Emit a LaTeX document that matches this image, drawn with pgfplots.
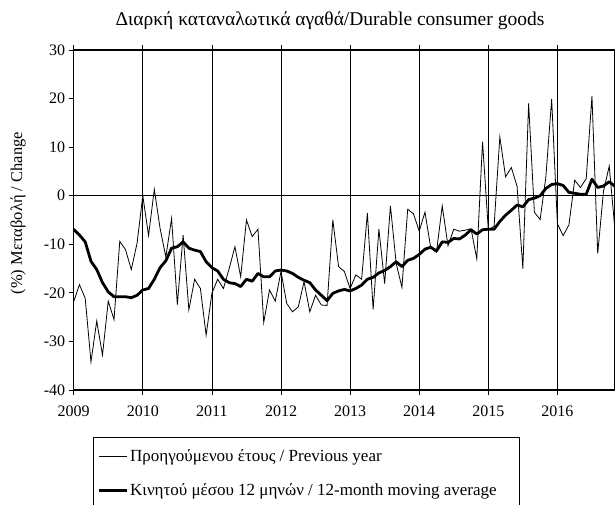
\documentclass[border=0pt]{standalone}
\usepackage{fontspec}
\setmainfont{Liberation Serif}
\usepackage{pgfplots}
\pgfplotsset{compat=1.18}

% month index 0 = Jan 2009
\pgfplotstableread{
m y
0 -21.8
1 -18.3
2 -21.1
3 -34.2
4 -25.8
5 -32.8
6 -21.7
7 -25.5
8 -9.4
9 -11.1
10 -15.2
11 -9.8
12 0.0
13 -8.2
14 1.3
15 -6.7
16 -12.6
17 -4.7
18 -22.4
19 -8.1
20 -23.5
21 -17.2
22 -19.1
23 -28.7
24 -20.1
25 -17.2
26 -19.1
27 -15.0
28 -10.5
29 -16.7
30 -5.0
31 -8.4
32 -6.9
33 -26.1
34 -19.4
35 -21.7
36 -15.6
37 -22.2
38 -23.9
39 -22.9
40 -17.7
41 -23.9
42 -20.5
43 -22.5
44 -22.6
45 -5.0
46 -14.6
47 -15.6
48 -19.1
49 -16.3
50 -17.2
51 -3.6
52 -23.4
53 -6.9
54 -18.1
55 -2.1
56 -13.9
57 -18.9
58 -2.8
59 -3.7
60 -7.3
61 -3.4
62 -10.7
63 -11.6
64 -2.1
65 -10.3
66 -6.9
67 -7.3
68 -7.1
69 -6.8
70 -13.0
71 11.1
72 -7.0
73 -6.3
74 12.1
75 3.9
76 5.8
77 1.9
78 -15.0
79 19.0
80 -3.4
81 -4.9
82 3.9
83 19.9
84 -5.8
85 -8.2
86 -6.0
87 3.2
88 1.7
89 3.5
90 20.5
91 -11.9
92 0.9
93 6.1
94 -7.1
}\yoy

\pgfplotstableread{
m y
0 -6.9
1 -8.1
2 -9.5
3 -13.5
4 -15.2
5 -17.9
6 -19.8
7 -20.8
8 -20.8
9 -20.8
10 -21.0
11 -20.5
12 -19.4
13 -19.1
14 -17.2
15 -14.8
16 -13.4
17 -10.8
18 -10.5
19 -9.5
20 -10.8
21 -11.2
22 -11.5
23 -13.6
24 -14.8
25 -15.5
26 -17.2
27 -17.9
28 -18.1
29 -18.7
30 -17.2
31 -17.6
32 -16.0
33 -16.7
34 -16.7
35 -15.5
36 -15.3
37 -15.5
38 -16.0
39 -16.8
40 -17.4
41 -17.9
42 -19.4
43 -20.5
44 -21.6
45 -20.1
46 -19.6
47 -19.3
48 -19.6
49 -19.1
50 -18.4
51 -17.2
52 -16.8
53 -15.9
54 -15.4
55 -14.6
56 -13.6
57 -14.6
58 -13.3
59 -12.9
60 -12.1
61 -11.0
62 -10.6
63 -11.4
64 -9.5
65 -9.6
66 -8.8
67 -8.9
68 -8.1
69 -7.0
70 -7.9
71 -7.0
72 -6.9
73 -6.9
74 -5.3
75 -4.0
76 -3.0
77 -1.9
78 -2.3
79 -0.8
80 -0.5
81 0.0
82 1.5
83 2.3
84 2.5
85 2.1
86 0.7
87 0.5
88 0.3
89 0.3
90 3.4
91 1.7
92 2.0
93 2.9
94 1.9
}\movavg

\begin{document}
\begin{tikzpicture}[x=1pt,y=1pt]
\useasboundingbox (-73.7,-115) rectangle (541.3,390);
\begin{axis}[
  at={(0,0)}, anchor=south west,
  scale only axis, width=541.3pt, height=340pt,
  xmin=0, xmax=94, ymin=-40, ymax=30,
  xtick={0,12,24,36,48,60,72,84},
  xticklabels={2009,2010,2011,2012,2013,2014,2015,2016},
  ytick={-40,-30,-20,-10,0,10,20,30},
  tick align=outside, major tick length=5pt,
  tick style={black, line width=0.8pt},
  axis line style={line width=1.2pt},
  xmajorgrids, grid style={black, line width=0.7pt},
  extra y ticks={0}, extra y tick labels={},
  extra y tick style={ymajorgrids, xmajorgrids=false, major tick length=0pt},
  /pgf/number format/assume math mode=true,
  tick label style={font=\fontsize{16}{19}\selectfont},
  xticklabel style={yshift=-7pt},
  title={Διαρκή καταναλωτικά αγαθά/Durable consumer goods},
  title style={at={(axis description cs:0.4735,1)}, anchor=center, yshift=23pt,
    font=\fontsize{19.5}{23}\selectfont},
  ylabel={(\%) Μεταβολή / Change},
  ylabel style={at={(axis description cs:-0.1029,0.52)}, anchor=center,
    font=\fontsize{16.5}{19}\selectfont},
  legend image code/.code={\draw[#1] (0pt,0pt) -- (28pt,0pt);},
  legend cell align=left,
  legend style={at={(axis description cs:0,0)}, anchor=north west,
    xshift=23.5pt, yshift=-57pt, draw=none, fill=none, inner sep=0pt,
    row sep=17pt, font=\fontsize{17}{20}\selectfont},
]
\addplot[black, line width=0.8pt] table[x=m, y=y] {\yoy};
\addlegendentry{Προηγούμενου έτους / Previous year}
\addplot[black, line width=2.8pt, line join=round] table[x=m, y=y] {\movavg};
\addlegendentry{Κινητού μέσου 12 μηνών / 12-month moving average}
\end{axis}
\draw[line width=0.8pt] (19.3,-47) rectangle (446,-130);
\end{tikzpicture}
\end{document}
